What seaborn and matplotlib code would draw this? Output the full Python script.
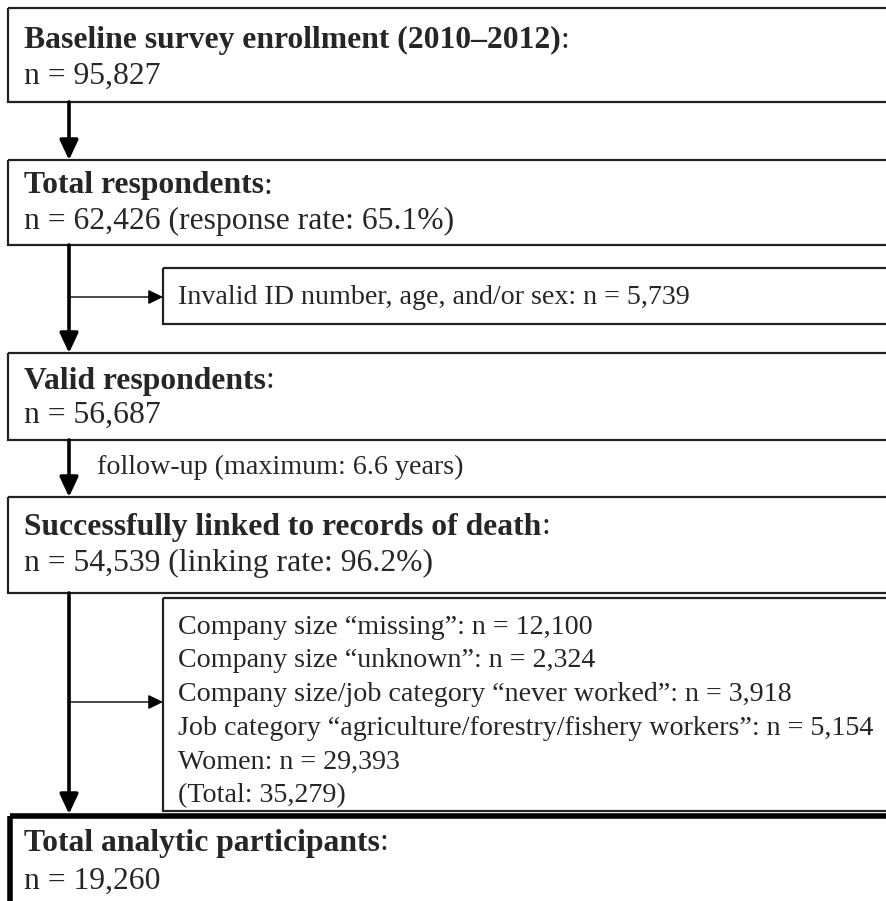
import matplotlib
matplotlib.use("Agg")
import matplotlib.pyplot as plt
from matplotlib.patches import Rectangle, FancyArrowPatch
import seaborn as sns

# ---- data ----
box_titles = [
    "Baseline survey enrollment (2010\u20132012)",
    "Total respondents",
    "Valid respondents",
    "Successfully linked to records of death",
    "Total analytic participants",
]
box_counts = [
    "n = 95,827",
    "n = 62,426 (response rate: 65.1%)",
    "n = 56,687",
    "n = 54,539 (linking rate: 96.2%)",
    "n = 19,260",
]
exclusion1 = ["Invalid ID number, age, and/or sex: n = 5,739"]
exclusion2 = [
    "Company size \u201cmissing\u201d: n = 12,100",
    "Company size \u201cunknown\u201d: n = 2,324",
    "Company size/job category \u201cnever worked\u201d: n = 3,918",
    "Job category \u201cagriculture/forestry/fishery workers\u201d: n = 5,154",
    "Women: n = 29,393",
    "(Total: 35,279)",
]
followup_label = "follow-up (maximum: 6.6 years)"

# ---- layout (pixel coordinates) ----
sns.set_theme(style="white")
plt.rcParams["font.family"] = ["Liberation Serif", "DejaVu Serif"]
FS_MAIN = 22.8
FS_SUB = 20.2

W, H = 887, 901
fig = plt.figure(figsize=(W / 100, H / 100), dpi=100)
ax = fig.add_axes([0, 0, 1, 1])
ax.set_xlim(0, W)
ax.set_ylim(H, 0)
ax.axis("off")

main_boxes = [(8, 102), (160, 245), (353, 440), (497, 593), (816, 960)]
text_rows = [(40, 76), (186, 221), (381, 415), (527, 563), (843, 881)]
edge = "#222222"

for i, ((y0, y1), (ty, cy)) in enumerate(zip(main_boxes, text_rows)):
    last = i == len(main_boxes) - 1
    ax.add_patch(Rectangle((8 if not last else 10, y0), 900, y1 - y0, fill=False,
                           ec="black" if last else edge, lw=4.0 if last else 1.6))
    t = ax.text(24, ty, box_titles[i], fontsize=FS_MAIN, fontweight="bold", va="center", ha="left")
    ax.annotate(":", xy=(1, 0), xycoords=t, xytext=(0, 0), textcoords="offset points",
                fontsize=FS_MAIN, va="bottom", ha="left")
    ax.text(24, cy, box_counts[i], fontsize=FS_MAIN, va="center", ha="left")

# side boxes
ax.add_patch(Rectangle((163, 268), 900, 56, fill=False, ec=edge, lw=1.6))
ax.text(178, 297, exclusion1[0], fontsize=FS_SUB, va="center", ha="left")
ax.add_patch(Rectangle((163, 598), 900, 213, fill=False, ec=edge, lw=1.6))
for j, line in enumerate(exclusion2):
    ax.text(178, 627 + j * 33.8, line, fontsize=FS_SUB, va="center", ha="left")

# main arrows
AX = 69
def main_arrow(y0, y1):
    ax.add_patch(FancyArrowPatch((AX, y0), (AX, y1), arrowstyle="-|>,head_length=6,head_width=2.8",
                                 mutation_scale=2, lw=2.6, color="black", shrinkA=0, shrinkB=0))

main_arrow(102, 160)
main_arrow(245, 353)
main_arrow(440, 497)
main_arrow(593, 814)

def side_arrow(y):
    ax.add_patch(FancyArrowPatch((AX, y), (163, y), arrowstyle="-|>,head_length=4.5,head_width=2.2",
                                 mutation_scale=2, lw=1.0, color="black", shrinkA=0, shrinkB=0))

side_arrow(297)
side_arrow(702)

ax.text(97, 467, followup_label, fontsize=FS_SUB, va="center", ha="left")

fig.savefig("out.png", dpi=100, facecolor="white")
